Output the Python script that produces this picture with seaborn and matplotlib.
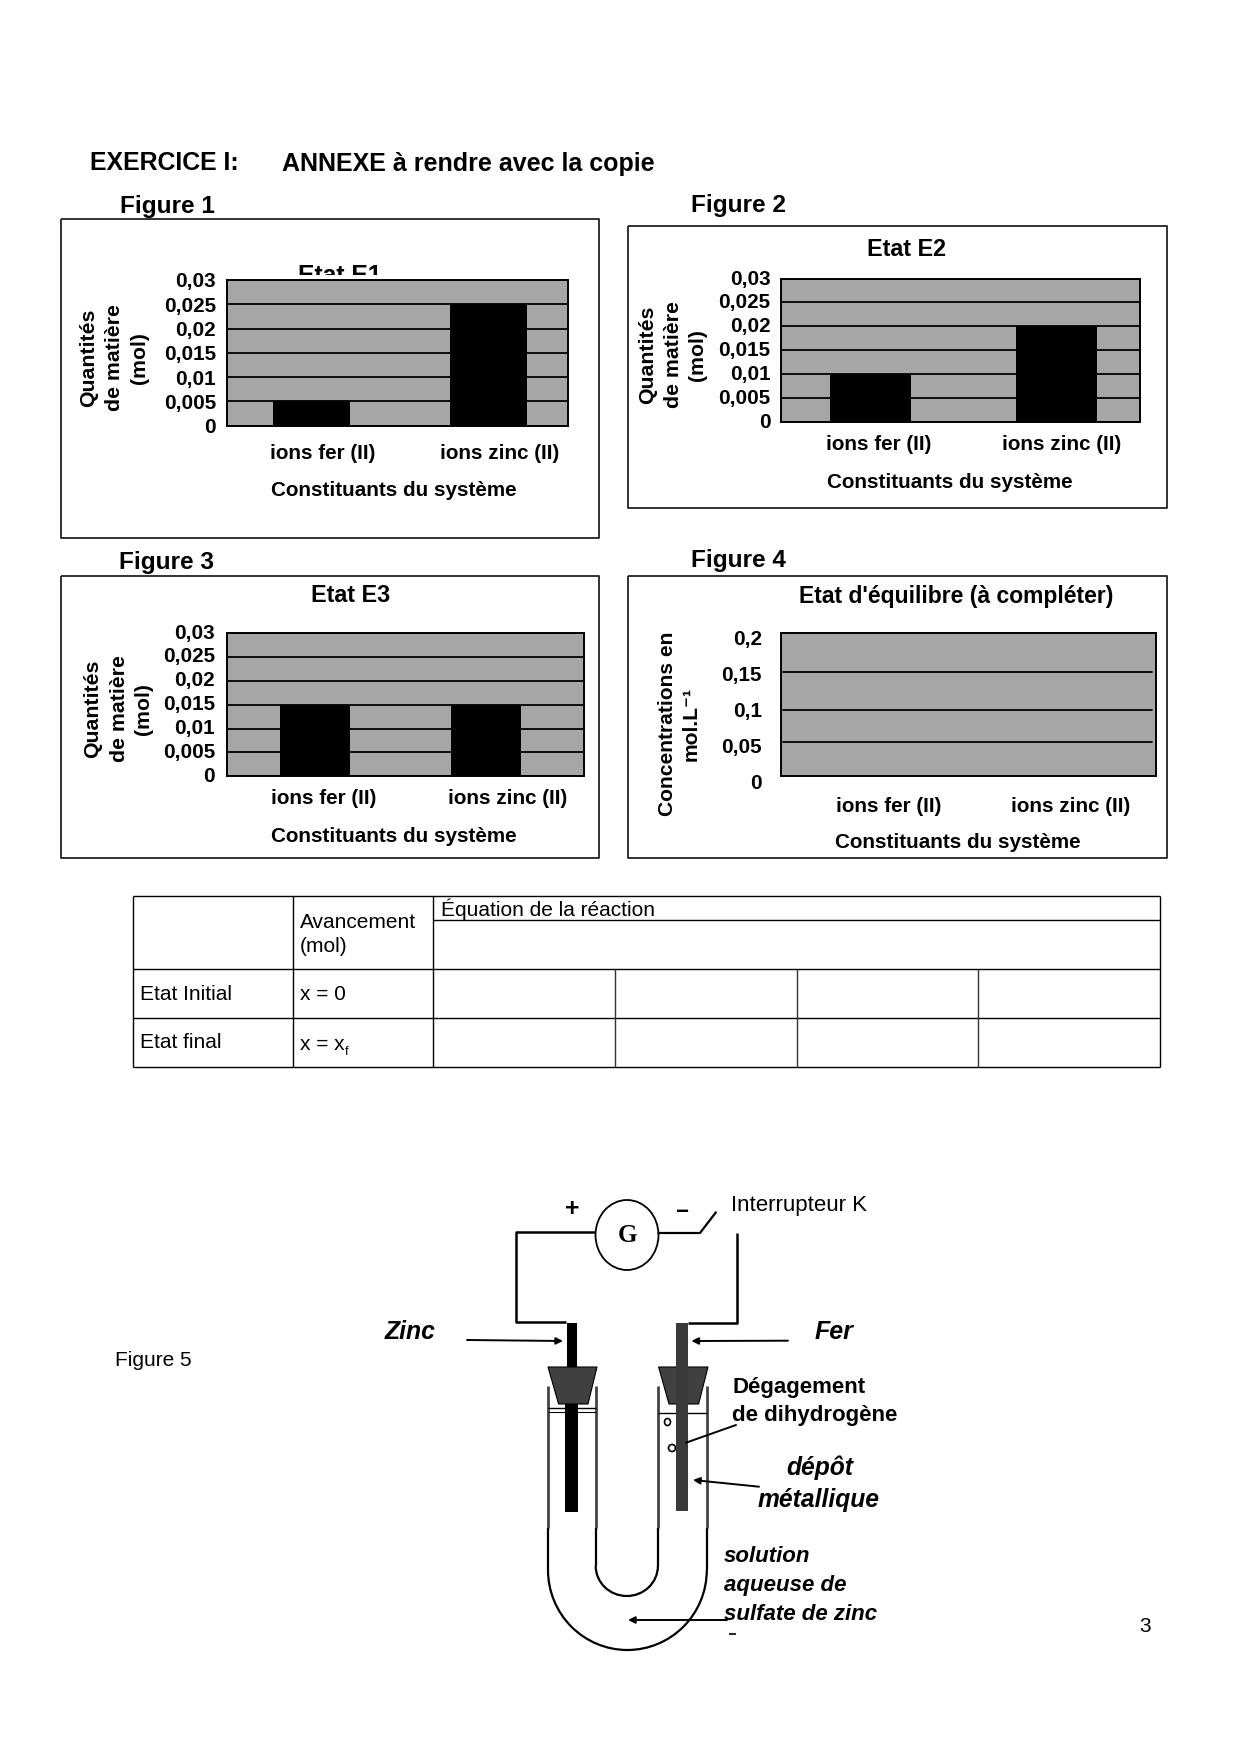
import matplotlib
matplotlib.use("Agg")
import matplotlib.pyplot as plt
from matplotlib.patches import Ellipse, Arc, Polygon, Rectangle
from matplotlib.transforms import ScaledTranslation, Bbox
import seaborn as sns

categories = ["ions fer (II)", "ions zinc (II)"]
values_e1 = [0.005, 0.025]
values_e2 = [0.01, 0.02]
values_e3 = [0.015, 0.015]
values_eq = [0, 0]
ticks_qty = [0, 0.005, 0.01, 0.015, 0.02, 0.025, 0.03]
labels_qty = ["0", "0,005", "0,01", "0,015", "0,02", "0,025", "0,03"]
ticks_conc = [0, 0.05, 0.1, 0.15, 0.2]
labels_conc = ["0", "0,05", "0,1", "0,15", "0,2"]
grid_conc = [0.0468, 0.0915, 0.1448]
ylabel_qty = ["Quantités", "de matière", "(mol)"]
xlabel_text = "Constituants du système"

W, H = 1240, 1754
GREY = "#A6A6A6"
FS = 14.9
sns.set_theme(style="white")
plt.rcParams["font.family"] = ["Liberation Sans", "DejaVu Sans"]
plt.rcParams["axes.unicode_minus"] = False
fig = plt.figure(figsize=(W / 100, H / 100), dpi=100, facecolor="white")


def rect(l, t, r, b):
    return [l / W, 1 - b / H, (r - l) / W, (b - t) / H]


def T(x, y, s, size=FS, weight="bold", ha="left", va="center", style="normal", rot=0, **kw):
    return fig.text(x / W, 1 - y / H, s, fontsize=size, fontweight=weight, ha=ha, va=va,
                    fontstyle=style, rotation=rot, color="black", **kw)


# full-page overlay in pixel coordinates for frames, table and diagram
pg = fig.add_axes([0, 0, 1, 1], zorder=-2)
pg.set_xlim(0, W)
pg.set_ylim(H, 0)
pg.axis("off")


def L(xs, ys, lw=1.4, c="black", **kw):
    pg.plot(xs, ys, color=c, lw=lw, solid_capstyle="butt", **kw)


def panel(box, plot, centers, bar_w, vals, lab_x, lab_y):
    L([box[0], box[2], box[2], box[0], box[0]], [box[1], box[1], box[3], box[3], box[1]], lw=1.3, c="#222222")
    ax = fig.add_axes(rect(*plot), facecolor=GREY)
    span = centers[1] - centers[0]
    sns.barplot(x=categories, y=vals, color="black", saturation=1, width=bar_w / span, linewidth=0, ax=ax)
    ax.set_xlim((plot[0] - centers[0]) / span, (plot[2] - centers[0]) / span)
    ax.set_axisbelow(True)
    for s in ax.spines.values():
        s.set_visible(True)
        s.set_linewidth(1.4)
        s.set_color("black")
    ax.tick_params(axis="both", length=0)
    ax.set_xticks([0, 1])
    ax.set_xticklabels(categories, fontsize=FS, fontweight="bold", color="black", va="center")
    ax.tick_params(axis="x", pad=(lab_y - plot[3]) * 0.72)
    for lab, lx, c in zip(ax.get_xticklabels(), lab_x, centers):
        lab.set_transform(lab.get_transform() + ScaledTranslation((lx - c) / 100, 0, fig.dpi_scale_trans))
    ax.set_xlabel("")
    ax.set_ylabel("")
    return ax


def qty_axis(ax, plot, tick_right, shift=0):
    ax.set_ylim(0, 0.03)
    ax.set_yticks(ticks_qty)
    ax.set_yticklabels(labels_qty, fontsize=FS, fontweight="bold", color="black")
    ax.tick_params(axis="y", pad=(plot[0] - tick_right) * 0.72)
    for lab in ax.get_yticklabels():
        lab.set_transform(lab.get_transform() + ScaledTranslation(0, shift / 100, fig.dpi_scale_trans))
    ax.grid(axis="y", color="black", lw=1.3)
    ax.grid(axis="x", visible=False)


def ylab(xs, yc, lines):
    for x, s in zip(xs, lines):
        T(x, yc, s, size=15.3, rot=90, ha="center", multialignment="center")


# Figure 1
p1 = (227, 280, 567.5, 425.7)
ax1 = panel((60.5, 219.3, 598.5, 538.3), p1, (311, 488), 77, values_e1, (323, 499.5), 453.7)
qty_axis(ax1, p1, 216)
ylab((89, 114, 139), 358, ylabel_qty)
T(270.7, 491, xlabel_text)
t = T(339.5, 283, "Etat E1", size=17.8, ha="center", va="baseline", zorder=-1)
t.set_clip_on(True)
t.set_clip_box(Bbox([[0, H - 275], [W, H]]))

# Figure 2
p2 = (780.8, 278.5, 1139.9, 421.7)
ax2 = panel((627.5, 226, 1166.7, 508), p2, (870, 1056), 81, values_e2, (878.8, 1061.7), 445)
qty_axis(ax2, p2, 770.5, shift=1.5)
ylab((648, 673.5, 698), 354.6, ylabel_qty)
T(826.6, 482, xlabel_text)
T(906.5, 249, "Etat E2", size=16.8, ha="center")

# Figure 3
p3 = (227, 633, 584, 776.3)
ax3 = panel((60.5, 576, 598.5, 857.6), p3, (315, 485.8), 70.5, values_e3, (323.8, 507.3), 798.6)
qty_axis(ax3, p3, 215, shift=2)
ylab((92.6, 119.5, 144), 709, ylabel_qty)
T(270.7, 836.6, xlabel_text)
T(351, 596, "Etat E3", size=16.8, ha="center")

# Figure 4
p4 = (781, 633, 1155.7, 775.7)
ax4 = panel((628, 576, 1166.5, 857.6), p4, (888.6, 1071), 70, values_eq, (888.6, 1071), 806.5)
ax4.set_ylim(0, 0.2)
ax4.set_yticks([])
for g in grid_conc:
    ax4.axhline(g, color="black", lw=1.3, xmin=0.005, xmax=0.99)
lab4 = fig.add_axes(rect(781, 637.7, 1155.7, 781.7), facecolor="none", zorder=1)
lab4.set_ylim(0, 0.2)
lab4.set_xticks([])
lab4.set_yticks(ticks_conc)
lab4.set_yticklabels(labels_conc, fontsize=FS, fontweight="bold", color="black")
lab4.tick_params(axis="y", length=0, pad=(781 - 762) * 0.72)
for s in lab4.spines.values():
    s.set_visible(False)
T(667.5, 724, "Concentrations en", size=15.1, rot=90, ha="center")
T(691.5, 724, "mol.L⁻¹", size=15.1, rot=90, ha="center")
T(835.4, 843, xlabel_text)
T(956, 596.5, "Etat d'équilibre (à compléter)", size=16.5, ha="center")

# Page headings
T(90, 163.5, "EXERCICE I:", size=17.9)
T(282, 164, "ANNEXE à rendre avec la copie", size=18)
T(119.5, 206.5, "Figure 1", size=17.6)
T(691.3, 205.5, "Figure 2", size=17.6)
T(118.6, 562, "Figure 3", size=17.6)
T(690.7, 560, "Figure 4", size=17.6)

# Table
tx = [133, 292.5, 433, 615, 797, 978, 1160]
for y in (896, 969, 1018, 1067):
    L([tx[0], tx[-1]], [y, y], lw=1.0)
L([433, 1160], [920, 920], lw=1.0)
for x in (133, 292.5, 433, 1160):
    L([x, x], [896, 1067], lw=1.0)
for x in (615, 797, 978):
    L([x, x], [969, 1067], lw=1.0, c="#333333")
T(441.5, 909, "Équation de la réaction", size=15, weight="normal")
T(300, 923, "Avancement", size=15, weight="normal")
T(300, 946, "(mol)", size=15, weight="normal")
T(140.5, 995, "Etat Initial", size=15, weight="normal")
T(300, 995, "x = 0", size=15, weight="normal")
T(140.5, 1043, "Etat final", size=15, weight="normal")
T(300, 1044, "x = x", size=15, weight="normal")
T(344.5, 1052, "f", size=9, weight="normal")

# Page footers
T(115, 1360, "Figure 5", size=15, weight="normal")
T(1145.5, 1626, "3", size=15, weight="normal", ha="center")

# Figure 5: diagram
pg.add_patch(Ellipse((627, 1235), 63, 70, fill=False, ec="black", lw=1.3))
T(627, 1235, "G", size=18, family="Liberation Serif", ha="center")
T(571.8, 1209, "+", size=18, ha="center")
T(682, 1212, "−", size=16, ha="center")
L([595, 516.4, 516.4, 566], [1231.7, 1231.7, 1321.7, 1321.7], lw=1.8)
L([657.5, 700, 716.4], [1233, 1233, 1211.7], lw=1.6)
L([737, 737, 688], [1233, 1322.7, 1322.7], lw=1.8)

pg.add_patch(Rectangle((567, 1322.7), 10, 50, fc="black", ec="none"))
pg.add_patch(Rectangle((564.6, 1370), 13.4, 141.7, fc="black", ec="none"))
pg.add_patch(Rectangle((676.4, 1322.7), 11.6, 188, fc="#3a3a3a", ec="none", zorder=3))
for pts in ([(548, 1367), (597, 1367), (588, 1404), (558.6, 1404)],
            [(658.6, 1367), (708, 1367), (698.6, 1404), (669, 1404)]):
    pg.add_patch(Polygon(pts, closed=True, fc="#404040", ec="black", lw=0.8, zorder=2))

for x in (548, 595.7, 657.9, 706.8):
    L([x, x], [1386, 1528], lw=2.0, c="#444444")
L([548, 548], [1528, 1570], lw=1.6)
L([706.8, 706.8], [1528, 1570], lw=1.6)
L([595.7, 595.7], [1528, 1566], lw=1.6)
L([657.9, 657.9], [1528, 1566], lw=1.6)
pg.add_patch(Arc((627.4, 1570), 158.8, 160, theta1=0, theta2=180, ec="black", lw=1.6))
pg.add_patch(Arc((626.8, 1566), 62.2, 60, theta1=0, theta2=180, ec="black", lw=1.6))
L([548, 595.7], [1408, 1408], lw=1.0)
L([548, 595.7], [1412, 1412], lw=0.8)
L([658, 706.8], [1413, 1413], lw=1.0)
pg.add_patch(Ellipse((667.5, 1422), 6, 7, fill=False, ec="black", lw=1.2))
pg.add_patch(Ellipse((672, 1448), 7, 7, fill=False, ec="black", lw=1.2))

for tail, head, style in (((467, 1340), (563, 1341), "-|>"), ((788, 1340.7), (691.4, 1341), "-|>"),
                          ((759, 1486.7), (693, 1480), "-|>"), ((727, 1620), (628, 1620), "-|>"),
                          ((736, 1425), (686, 1442.7), "-")):
    pg.annotate("", xy=head, xytext=tail, xycoords="data", textcoords="data",
                arrowprops=dict(arrowstyle=style, color="black", lw=1.4, shrinkA=0, shrinkB=0,
                                mutation_scale=10), zorder=4)

T(731.4, 1206, "Interrupteur K", size=16, weight="normal")
T(385, 1332, "Zinc", size=17.8, style="italic")
T(814.6, 1332, "Fer", size=18, style="italic")
T(732.5, 1387.7, "Dégagement", size=16)
T(732.5, 1416, "de dihydrogène", size=16)
T(786, 1468, "dépôt", size=17.7, style="italic")
T(757.5, 1500, "métallique", size=17.7, style="italic")
T(723.6, 1556.7, "solution", size=16, style="italic")
T(723.6, 1585, "aqueuse de", size=16, style="italic")
T(723.6, 1614, "sulfate de zinc", size=16, style="italic")
L([729, 736], [1634, 1634], lw=1.2)

fig.savefig("out.png", dpi=100, facecolor="white")
